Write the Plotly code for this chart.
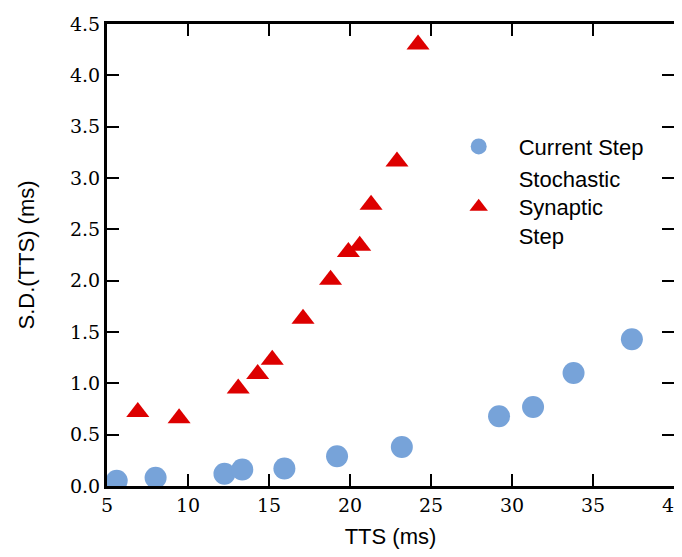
import plotly.graph_objects as go

cs_x = [5.6, 8.0, 12.25, 13.35, 15.95, 19.2, 23.2, 29.2, 31.3, 33.8, 37.4]
cs_y = [0.05, 0.08, 0.12, 0.16, 0.17, 0.29, 0.38, 0.68, 0.77, 1.10, 1.43]

ss_x = [6.9, 9.45, 13.1, 14.3, 15.2, 17.1, 18.8, 19.9, 20.6, 21.3, 22.9, 24.2]
ss_y = [0.72, 0.66, 0.95, 1.09, 1.23, 1.63, 2.01, 2.28, 2.34, 2.74, 3.16, 4.30]

x_ticks = [5, 10, 15, 20, 25, 30, 35, 40]
y_ticks = [0.0, 0.5, 1.0, 1.5, 2.0, 2.5, 3.0, 3.5, 4.0, 4.5]

fig = go.Figure()
fig.add_trace(go.Scatter(x=cs_x, y=cs_y, mode="markers", name="Current Step",
                         marker=dict(symbol="circle", size=22, color="#77a3d9")))
fig.add_trace(go.Scatter(x=ss_x, y=ss_y, mode="markers", name="Stochastic<br>Synaptic<br>Step",
                         marker=dict(symbol="triangle-up", size=20, color="#dd0000")))

axis_common = dict(showgrid=False, zeroline=False, showline=True, linecolor="black",
                   linewidth=3, mirror="allticks", ticks="inside", ticklen=12,
                   tickwidth=1.5, tickcolor="black", ticklabeloverflow="allow",
                   automargin=False,
                   tickfont=dict(family="DejaVu Serif", size=19, color="black"))

fig.update_xaxes(range=[5, 40], tickvals=x_ticks, ticktext=[str(v) for v in x_ticks],
                 title=dict(text="TTS (ms)", font=dict(family="Liberation Sans", size=22, color="black"),
                            standoff=18),
                 **axis_common)
fig.update_yaxes(range=[0, 4.5], tickvals=y_ticks, ticktext=[f"{v:.1f}" for v in y_ticks],
                 title=dict(text="S.D.(TTS) (ms)", font=dict(family="Liberation Sans", size=22, color="black"),
                            standoff=30),
                 **axis_common)

fig.update_layout(
    width=666, height=541,
    margin=dict(l=99, r=0, t=16, b=63),
    plot_bgcolor="white", paper_bgcolor="white",
    legend=dict(x=0.585, y=0.78, xanchor="left", yanchor="top",
                font=dict(family="Liberation Sans", size=22, color="black"),
                bgcolor="rgba(0,0,0,0)", tracegroupgap=4, itemwidth=70),
)

fig.write_html("out.html")
